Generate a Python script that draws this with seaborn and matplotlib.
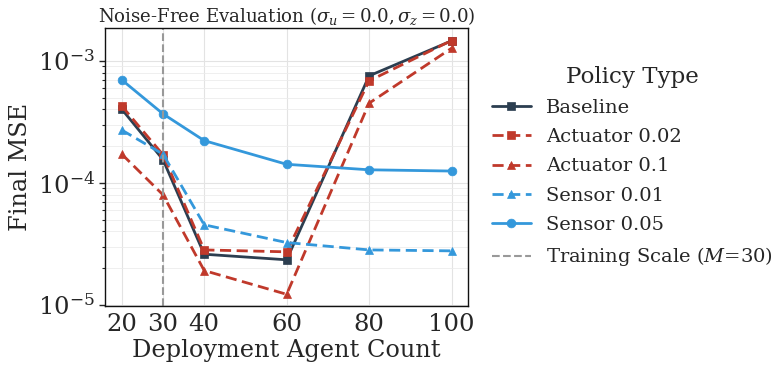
import numpy as np
import pandas as pd
import matplotlib
matplotlib.use("Agg")
import matplotlib.pyplot as plt
import seaborn as sns

# Deployment scales and final MSE per policy
agent_counts = [20, 30, 40, 60, 80, 100]
baseline = [4.02e-4, 1.55e-4, 2.60e-5, 2.34e-5, 7.54e-4, 1.46e-3]
actuator_002 = [4.27e-4, 1.70e-4, 2.82e-5, 2.72e-5, 6.86e-4, 1.47e-3]
actuator_01 = [1.72e-4, 7.98e-5, 1.91e-5, 1.22e-5, 4.50e-4, 1.27e-3]
sensor_001 = [2.71e-4, 1.72e-4, 4.53e-5, 3.24e-5, 2.82e-5, 2.77e-5]
sensor_005 = [6.99e-4, 3.68e-4, 2.22e-4, 1.42e-4, 1.28e-4, 1.25e-4]
policy_names = ["Baseline", "Actuator 0.02", "Actuator 0.1", "Sensor 0.01", "Sensor 0.05"]
training_scale = 30

sns.set_theme(style="ticks", font="DejaVu Serif")
plt.rcParams["font.family"] = ["DejaVu Serif"]
plt.rcParams["mathtext.fontset"] = "dejavuserif"

series = [baseline, actuator_002, actuator_01, sensor_001, sensor_005]
df = pd.DataFrame({
    "Agents": np.tile(agent_counts, len(policy_names)),
    "MSE": np.concatenate(series),
    "Policy": np.repeat(policy_names, len(agent_counts)),
})

palette = {
    "Baseline": "#2c3e50",
    "Actuator 0.02": "#c0392b",
    "Actuator 0.1": "#c0392b",
    "Sensor 0.01": "#3498db",
    "Sensor 0.05": "#3498db",
}
markers = {
    "Baseline": "s",
    "Actuator 0.02": "s",
    "Actuator 0.1": "^",
    "Sensor 0.01": "^",
    "Sensor 0.05": "o",
}
dashes = {
    "Baseline": "",
    "Actuator 0.02": (4, 2),
    "Actuator 0.1": (4, 2),
    "Sensor 0.01": (4, 2),
    "Sensor 0.05": "",
}

fig = plt.figure(figsize=(7.8, 3.69), dpi=100)
ax = fig.add_axes([0.135, 0.171, 0.465, 0.753])

sns.lineplot(
    data=df, x="Agents", y="MSE", hue="Policy", style="Policy",
    hue_order=policy_names, style_order=policy_names,
    palette=palette, markers=markers, dashes=dashes,
    linewidth=2, markersize=6.3, ax=ax,
)
for line in ax.get_lines():
    line.set_markeredgecolor(line.get_color())
    line.set_markeredgewidth(0.5)

ax.axvline(training_scale, color="#999999", linestyle="--", linewidth=1.5,
           label=r"Training Scale ($M$=30)")

ax.set_yscale("log")
ax.set_ylim(9.8e-6, 1.86e-3)
ax.set_xticks(agent_counts)
ax.set_xlabel("Deployment Agent Count", fontsize=17.3, labelpad=2)
ax.set_ylabel("Final MSE", fontsize=17.3)
ax.set_title(r"Noise-Free Evaluation ($\sigma_u = 0.0, \sigma_z = 0.0$)", fontsize=13.1, pad=4)
ax.tick_params(axis="both", labelsize=17.5)
ax.tick_params(axis="x", length=0, pad=5)
ax.tick_params(axis="y", which="major", length=4, width=1)
ax.tick_params(axis="y", which="minor", length=2.5, width=0.8)
ax.grid(True, which="major", color="#e3e3e3", linewidth=0.8)
ax.grid(True, which="minor", axis="y", color="#ececec", linewidth=0.6)
ax.set_axisbelow(True)
for s in ax.spines.values():
    s.set_color("#111111")
    s.set_linewidth(1.0)

handles, labels = ax.get_legend_handles_labels()
for h in handles:
    h.set_markeredgecolor(h.get_color())
leg = ax.legend(handles, labels, title="Policy Type", loc="center left",
                bbox_to_anchor=(1.017, 0.5), frameon=False, fontsize=14.0,
                title_fontsize=16.5, labelspacing=0.58, handlelength=2.0,
                handletextpad=0.8)

fig.savefig("out.png", dpi=100)
